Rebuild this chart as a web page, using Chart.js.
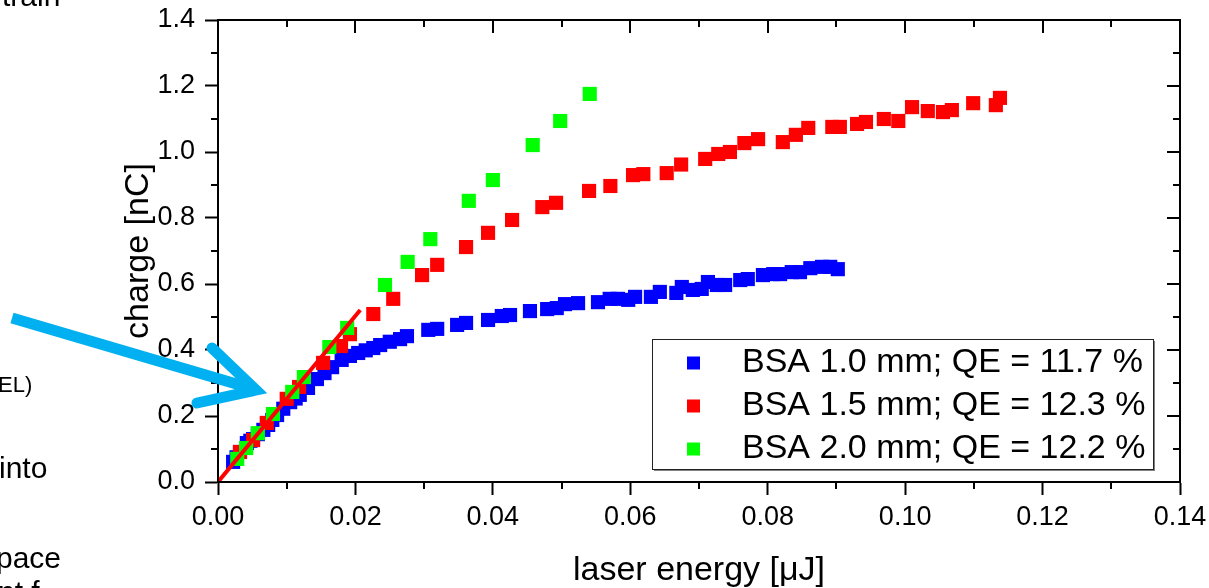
<!DOCTYPE html>
<html lang="en">
<head>
<meta charset="UTF-8">
<title>Charge vs laser energy</title>
<script src="https://cdn.jsdelivr.net/npm/chart.js"></script>
<style>
    body {
        margin: 0;
        background: #ffffff;
        font-family: Arial, 'Liberation Sans', sans-serif;
    }
    .page {
        position: relative;
        width: 1209px;
        height: 588px;
        overflow: hidden;
    }
    .page canvas {
        position: absolute;
        left: 0;
        top: 0;
    }
    .side {
        position: absolute;
        color: #000;
        white-space: nowrap;
        font-size: 30px;
        line-height: 30px;
    }
    svg.arrow {
        position: absolute;
        left: 0;
        top: 0;
        pointer-events: none;
    }
</style>
</head>
<body>
<div class="page">
    <canvas id="qeChart" width="1209" height="588"></canvas>

    <!-- bits of slide text cut off at the left edge -->
    <div class="side" style="left:2px; top:-19px;">train</div>
    <div class="side" style="left:-2px; top:374px; font-size:22px; line-height:22px;">EL)</div>
    <div class="side" style="left:-1px; top:453px;">into</div>
    <div class="side" style="left:-4px; top:543px;">pace</div>
    <div class="side" style="left:-2px; top:577px;">nt f</div>

    <svg class="arrow" width="1209" height="588">
        <g stroke="#00B0F0" stroke-width="11" fill="none">
            <line x1="12" y1="318" x2="250" y2="388" stroke-linecap="butt"/>
            <polyline points="212,348 256,390 197,403" stroke-linecap="round" stroke-linejoin="miter"/>
        </g>
    </svg>
</div>

<script>
    // laser energy [uJ] / charge [nC]
    const bsa10X = [0.0022, 0.0027, 0.0032, 0.0042, 0.0047, 0.0051, 0.0058, 0.0066, 0.0073, 0.0079,
                    0.0086, 0.0095, 0.0105, 0.0113, 0.0119, 0.0131, 0.0144, 0.0155, 0.0166, 0.0180,
                    0.0192, 0.0204, 0.0215, 0.0226, 0.0236, 0.0250, 0.0265, 0.0275, 0.0306, 0.0319,
                    0.0348, 0.0361, 0.0393, 0.0413, 0.0425, 0.0454, 0.0479, 0.0493, 0.0505, 0.0524,
                    0.0553, 0.0570, 0.0582, 0.0597, 0.0607, 0.0630, 0.0643, 0.0667, 0.0675, 0.0691,
                    0.0704, 0.0713, 0.0726, 0.0738, 0.0760, 0.0771, 0.0793, 0.0808, 0.0818, 0.0835,
                    0.0847, 0.0862, 0.0879, 0.0891, 0.0902];
    const bsa10Y = [0.061, 0.075, 0.091, 0.118, 0.125, 0.130, 0.145, 0.158, 0.173, 0.188,
                    0.203, 0.222, 0.242, 0.253, 0.264, 0.285, 0.312, 0.330, 0.348, 0.370,
                    0.382, 0.391, 0.399, 0.406, 0.415, 0.425, 0.433, 0.442, 0.461, 0.464,
                    0.476, 0.482, 0.491, 0.503, 0.506, 0.518, 0.524, 0.527, 0.539, 0.542,
                    0.545, 0.555, 0.555, 0.552, 0.561, 0.561, 0.576, 0.573, 0.591, 0.582,
                    0.585, 0.606, 0.597, 0.597, 0.612, 0.615, 0.627, 0.630, 0.630, 0.636,
                    0.636, 0.648, 0.652, 0.652, 0.645];

    const bsa15X = [0.0032, 0.0051, 0.0071, 0.0100, 0.0118, 0.0153, 0.0179, 0.0192, 0.0226, 0.0255,
                    0.0297, 0.0319, 0.0361, 0.0393, 0.0428, 0.0472, 0.0492, 0.0540, 0.0571, 0.0604,
                    0.0619, 0.0653, 0.0674, 0.0709, 0.0728, 0.0745, 0.0766, 0.0786, 0.0822, 0.0841,
                    0.0859, 0.0894, 0.0905, 0.0930, 0.0943, 0.0969, 0.0990, 0.1010, 0.1033, 0.1055,
                    0.1068, 0.1099, 0.1132, 0.1138];
    const bsa15Y = [0.091, 0.127, 0.179, 0.252, 0.288, 0.361, 0.412, 0.448, 0.509, 0.555,
                    0.627, 0.658, 0.712, 0.755, 0.794, 0.833, 0.846, 0.882, 0.897, 0.930,
                    0.933, 0.936, 0.962, 0.979, 0.994, 1.000, 1.027, 1.039, 1.030, 1.052,
                    1.073, 1.076, 1.076, 1.085, 1.091, 1.100, 1.094, 1.136, 1.124, 1.121,
                    1.127, 1.148, 1.142, 1.164];

    const bsa20X = [0.0028, 0.0041, 0.0058, 0.0080, 0.0108, 0.0125, 0.0162, 0.0188,
                    0.0243, 0.0276, 0.0309, 0.0365, 0.0400, 0.0458, 0.0498, 0.0541];
    const bsa20Y = [0.070, 0.103, 0.148, 0.206, 0.273, 0.318, 0.409, 0.467,
                    0.597, 0.667, 0.736, 0.852, 0.915, 1.021, 1.094, 1.176];

    // linear QE fit
    const fitX = [0, 0.0207];
    const fitY = [0, 0.521];

    const seriesLabels = ['BSA 1.0 mm; QE = 11.7 %', 'BSA 1.5 mm; QE = 12.3 %', 'BSA 2.0 mm; QE = 12.2 %'];
    const seriesColors = ['#0000ff', '#ff0000', '#00ff00'];

    const xTickStep = 0.02, xMinorStep = 0.01, xMax = 0.14;
    const yTickStep = 0.2, yMinorStep = 0.1, yMax = 1.4;

    const toPoints = (xs, ys) => xs.map((v, i) => ({x: v, y: ys[i]}));

    const tickFont = {family: 'Arial, "Liberation Sans", sans-serif', size: 27};
    const titleFont = {family: 'Arial, "Liberation Sans", sans-serif', size: 34, lineHeight: 1};

    // frame, inward ticks on top/right and the minor ticks
    const frameTicks = {
        id: 'frameTicks',
        afterDraw(chart) {
            const {ctx, chartArea: a, scales: {x, y}} = chart;
            ctx.save();
            ctx.strokeStyle = '#000';
            ctx.lineWidth = 2;
            ctx.beginPath();
            for (let v = 0; v <= xMax + 1e-9; v += xMinorStep) {
                const px = Math.round(x.getPixelForValue(v));
                const major = Math.abs(v / xTickStep - Math.round(v / xTickStep)) < 1e-6;
                ctx.moveTo(px, a.top);
                ctx.lineTo(px, a.top + (major ? 13 : 7));
                if (!major) {
                    ctx.moveTo(px, a.bottom);
                    ctx.lineTo(px, a.bottom + 7);
                }
            }
            for (let v = 0; v <= yMax + 1e-9; v += yMinorStep) {
                const py = Math.round(y.getPixelForValue(v));
                const major = Math.abs(v / yTickStep - Math.round(v / yTickStep)) < 1e-6;
                ctx.moveTo(a.right, py);
                ctx.lineTo(a.right - (major ? 13 : 7), py);
                if (!major) {
                    ctx.moveTo(a.left, py);
                    ctx.lineTo(a.left - 7, py);
                }
            }
            ctx.stroke();
            ctx.strokeRect(a.left, a.top, a.right - a.left, a.bottom - a.top);
            ctx.restore();
        }
    };

    // boxed legend inside the plot, lower right
    const boxLegend = {
        id: 'boxLegend',
        afterDraw(chart) {
            const {ctx, chartArea: a} = chart;
            const left = a.right - 528, top = a.top + 319, w = 501, h = 130;
            ctx.save();
            ctx.fillStyle = '#808080';
            ctx.fillRect(left + 2, top + 2, w, h);
            ctx.fillStyle = '#ffffff';
            ctx.fillRect(left, top, w, h);
            ctx.strokeStyle = '#222';
            ctx.lineWidth = 1;
            ctx.strokeRect(left + 0.5, top + 0.5, w, h);
            ctx.font = '34px Arial, "Liberation Sans", sans-serif';
            ctx.textBaseline = 'middle';
            ctx.textAlign = 'left';
            chart.data.datasets.filter(d => !d.isFit).forEach((d, i) => {
                const cy = top + 24 + i * 43;
                ctx.fillStyle = d.backgroundColor;
                ctx.fillRect(left + 35, cy - 6.5, 13, 13);
                ctx.fillStyle = '#000';
                ctx.fillText(d.label, left + 90, cy);
            });
            ctx.restore();
        }
    };

    const scatterSet = (i, xs, ys, order) => ({
        label: seriesLabels[i],
        data: toPoints(xs, ys),
        backgroundColor: seriesColors[i],
        borderColor: seriesColors[i],
        borderWidth: 0,
        pointStyle: 'rect',
        pointRadius: 10,
        pointHoverRadius: 10,
        order: order
    });

    new Chart(document.getElementById('qeChart'), {
        type: 'scatter',
        data: {
            datasets: [
                scatterSet(0, bsa10X, bsa10Y, 4),
                scatterSet(1, bsa15X, bsa15Y, 3),
                scatterSet(2, bsa20X, bsa20Y, 2),
                {
                    label: 'fit',
                    isFit: true,
                    data: toPoints(fitX, fitY),
                    showLine: true,
                    borderColor: '#ff0000',
                    borderWidth: 4,
                    pointRadius: 0,
                    order: 1
                }
            ]
        },
        options: {
            responsive: false,
            animation: false,
            events: [],
            layout: {padding: {top: 20, right: 29, bottom: 0, left: 0}},
            plugins: {
                legend: {display: false},
                tooltip: {enabled: false}
            },
            scales: {
                x: {
                    type: 'linear',
                    min: 0,
                    max: xMax,
                    afterFit: s => { s.height = 106; s.paddingLeft = 0; s.paddingRight = 0; },
                    afterBuildTicks: s => {
                        s.ticks = [];
                        for (let k = 0; k * xTickStep <= xMax + 1e-9; k++) s.ticks.push({value: +(k * xTickStep).toFixed(2)});
                    },
                    ticks: {
                        autoSkip: false,
                        maxRotation: 0,
                        padding: 6,
                        color: '#000',
                        font: tickFont,
                        callback: v => v.toFixed(2)
                    },
                    grid: {drawOnChartArea: false, drawTicks: true, tickLength: 13, tickWidth: 2, tickColor: '#000'},
                    border: {display: true, color: '#000', width: 2},
                    title: {display: true, text: 'laser energy [\u03bcJ]', color: '#000', font: titleFont, padding: 0}
                },
                y: {
                    type: 'linear',
                    min: 0,
                    max: yMax,
                    afterFit: s => { s.width = 218; s.paddingTop = 0; s.paddingBottom = 0; },
                    afterBuildTicks: s => {
                        s.ticks = [];
                        for (let k = 0; k * yTickStep <= yMax + 1e-9; k++) s.ticks.push({value: +(k * yTickStep).toFixed(1)});
                    },
                    ticks: {
                        autoSkip: false,
                        padding: 10,
                        color: '#000',
                        font: tickFont,
                        callback: v => v.toFixed(1)
                    },
                    grid: {drawOnChartArea: false, drawTicks: true, tickLength: 13, tickWidth: 2, tickColor: '#000'},
                    border: {display: true, color: '#000', width: 2},
                    title: {display: true, text: 'charge [nC]', color: '#000', font: titleFont, padding: {top: 122, bottom: 0}}
                }
            }
        },
        plugins: [frameTicks, boxLegend]
    });
</script>
</body>
</html>
